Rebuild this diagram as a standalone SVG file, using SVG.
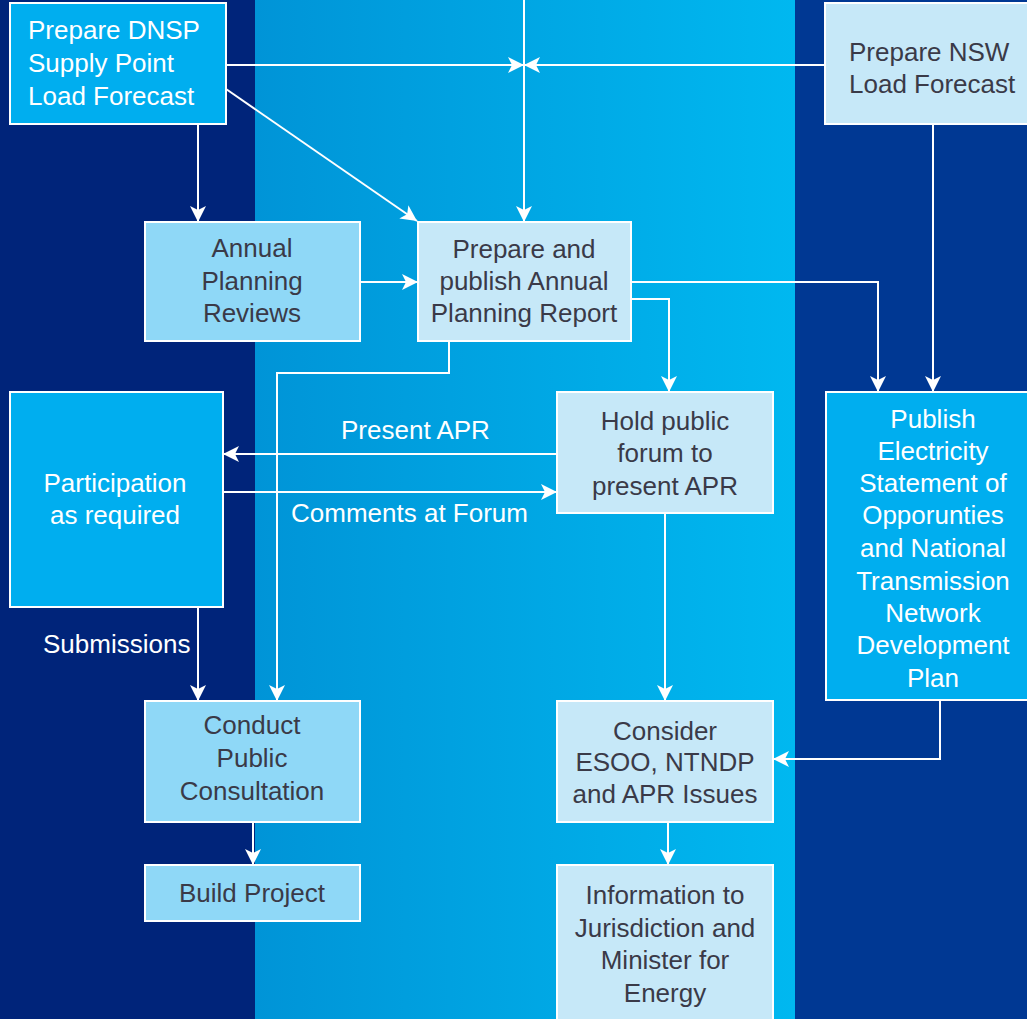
<svg xmlns="http://www.w3.org/2000/svg" width="1027" height="1019" viewBox="0 0 1027 1019">
<style>
.box{stroke:#fff;stroke-width:2}
.cyan{fill:#00aeef}
.mid{fill:#8fd8f7}
.pale{fill:#c6e8f8}
text{font-family:"Liberation Sans",Arial,sans-serif;font-size:26px}
.w{fill:#fff}
.d{fill:#3a3a48}
.c{text-anchor:middle}
.conn{fill:none;stroke:#fff;stroke-width:2}
</style>
<defs>
<linearGradient id="midg" x1="255" y1="0" x2="795" y2="0" gradientUnits="userSpaceOnUse">
<stop offset="0" stop-color="#0094d7"/>
<stop offset="1" stop-color="#00b8f0"/>
</linearGradient>
<marker id="ah" markerUnits="userSpaceOnUse" markerWidth="17" markerHeight="16" refX="16" refY="8" orient="auto">
<path d="M0,0 L16,8 L0,16 L4,8 z" fill="#fff"/>
</marker>
</defs>
<rect x="0" y="0" width="255" height="1019" fill="#00247a"/>
<rect x="255" y="0" width="540" height="1019" fill="url(#midg)"/>
<rect x="795" y="0" width="232" height="1019" fill="#003893"/>

<g id="connectors" class="conn" marker-end="url(#ah)">
<path d="M226,65 H524"/>
<path d="M825,65 H524"/>
<path d="M524,0 V222"/>
<path d="M226,89 L417,221"/>
<path d="M198,124 V222"/>
<path d="M360,282 H418"/>
<path d="M631,282 H878 V392"/>
<path d="M631,299 H669 V392"/>
<path d="M933,124 V392"/>
<path d="M449,341 V373 H277 V701"/>
<path d="M557,454 H223"/>
<path d="M223,492 H557"/>
<path d="M198,607 V701"/>
<path d="M665,513 V701"/>
<path d="M940,700 V759 H773"/>
<path d="M668,822 V865"/>
<path d="M253,822 V865"/>
</g>

<g id="labels">
<text class="w" x="341" y="439">Present APR</text>
<text class="w" x="291" y="522">Comments at Forum</text>
<text class="w" x="43" y="653">Submissions</text>
</g>

<g id="dnsp">
<rect class="box cyan" x="10" y="3" width="216" height="121"/>
<text class="w" x="28" y="39">Prepare DNSP</text>
<text class="w" x="28" y="72">Supply Point</text>
<text class="w" x="28" y="105">Load Forecast</text>
</g>
<g id="nsw">
<rect class="box pale" x="825" y="3" width="205" height="121"/>
<text class="d" x="849" y="61">Prepare NSW</text>
<text class="d" x="849" y="93">Load Forecast</text>
</g>
<g id="annual">
<rect class="box mid" x="145" y="222" width="215" height="119"/>
<text class="d c" x="252" y="257">Annual</text>
<text class="d c" x="252" y="290">Planning</text>
<text class="d c" x="252" y="322">Reviews</text>
</g>
<g id="apr">
<rect class="box pale" x="418" y="222" width="213" height="119"/>
<text class="d c" x="524" y="258">Prepare and</text>
<text class="d c" x="524" y="290">publish Annual</text>
<text class="d c" x="524" y="322">Planning Report</text>
</g>
<g id="participation">
<rect class="box cyan" x="10" y="392" width="213" height="215"/>
<text class="w c" x="115" y="492">Participation</text>
<text class="w c" x="115" y="524">as required</text>
</g>
<g id="forum">
<rect class="box pale" x="557" y="392" width="216" height="121"/>
<text class="d c" x="665" y="430">Hold public</text>
<text class="d c" x="665" y="462">forum to</text>
<text class="d c" x="665" y="495">present APR</text>
</g>
<g id="publish">
<rect class="box cyan" x="826" y="392" width="204" height="308"/>
<text class="w c" x="933" y="428">Publish</text>
<text class="w c" x="933" y="460">Electricity</text>
<text class="w c" x="933" y="492">Statement of</text>
<text class="w c" x="933" y="524">Opporunties</text>
<text class="w c" x="933" y="557">and National</text>
<text class="w c" x="933" y="590">Transmission</text>
<text class="w c" x="933" y="622">Network</text>
<text class="w c" x="933" y="654">Development</text>
<text class="w c" x="933" y="687">Plan</text>
</g>
<g id="consultation">
<rect class="box mid" x="145" y="701" width="215" height="121"/>
<text class="d c" x="252" y="734">Conduct</text>
<text class="d c" x="252" y="767">Public</text>
<text class="d c" x="252" y="800">Consultation</text>
</g>
<g id="consider">
<rect class="box pale" x="557" y="701" width="216" height="121"/>
<text class="d c" x="665" y="740">Consider</text>
<text class="d c" x="665" y="771">ESOO, NTNDP</text>
<text class="d c" x="665" y="803">and APR Issues</text>
</g>
<g id="build">
<rect class="box mid" x="145" y="865" width="215" height="56"/>
<text class="d c" x="252" y="902">Build Project</text>
</g>
<g id="info">
<rect class="box pale" x="557" y="865" width="216" height="170"/>
<text class="d c" x="665" y="904">Information to</text>
<text class="d c" x="665" y="937">Jurisdiction and</text>
<text class="d c" x="665" y="969">Minister for</text>
<text class="d c" x="665" y="1002">Energy</text>
</g>
</svg>
